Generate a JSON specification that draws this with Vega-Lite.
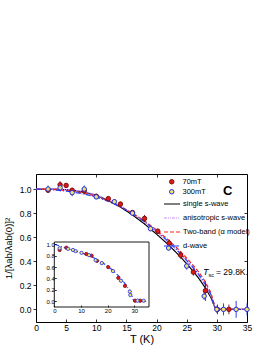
{
  "$schema": "https://vega.github.io/schema/vega-lite/v6.json",
  "width": 211,
  "height": 148,
  "autosize": {"type": "none"},
  "padding": {"left": 36, "top": 174, "right": 27, "bottom": 33},
  "background": "white",
  "config": {
    "view": {"stroke": null},
    "font": "Liberation Sans",
    "axis": {"grid": false, "labelOverlap": false, "labelFlush": false, "domainColor": "black", "tickColor": "black", "labelColor": "black", "titleColor": "black", "labelFont": "Liberation Sans", "titleFont": "Liberation Sans", "domainWidth": 1, "tickWidth": 0.8, "titleFontWeight": "normal"}
  },
  "datasets": {
    "pts": [
      {"field": "70mT", "T": 2, "v": 0.99, "lo": 0.97, "hi": 1.01},
      {"field": "70mT", "T": 4, "v": 1.035, "lo": 1.0, "hi": 1.065},
      {"field": "70mT", "T": 5, "v": 1.03, "lo": 1.01, "hi": 1.05},
      {"field": "70mT", "T": 6, "v": 0.99, "lo": 0.97, "hi": 1.01},
      {"field": "70mT", "T": 8, "v": 0.985, "lo": 0.955, "hi": 1.015},
      {"field": "70mT", "T": 10, "v": 0.94, "lo": 0.92, "hi": 0.96},
      {"field": "70mT", "T": 12, "v": 0.92, "lo": 0.9, "hi": 0.94},
      {"field": "70mT", "T": 14, "v": 0.875, "lo": 0.855, "hi": 0.895},
      {"field": "70mT", "T": 16, "v": 0.805, "lo": 0.785, "hi": 0.825},
      {"field": "70mT", "T": 18, "v": 0.755, "lo": 0.725, "hi": 0.785},
      {"field": "70mT", "T": 20.2, "v": 0.65, "lo": 0.63, "hi": 0.67},
      {"field": "70mT", "T": 22.1, "v": 0.55, "lo": 0.52, "hi": 0.58},
      {"field": "70mT", "T": 24, "v": 0.45, "lo": 0.42, "hi": 0.48},
      {"field": "70mT", "T": 26.1, "v": 0.31, "lo": 0.28, "hi": 0.34},
      {"field": "70mT", "T": 28.1, "v": 0.155, "lo": 0.07, "hi": 0.235},
      {"field": "70mT", "T": 30.1, "v": 0.0, "lo": -0.04, "hi": 0.04},
      {"field": "70mT", "T": 32, "v": 0.0, "lo": -0.04, "hi": 0.04},
      {"field": "300mT", "T": 2, "v": 1.0, "lo": 0.97, "hi": 1.03},
      {"field": "300mT", "T": 4, "v": 1.01, "lo": 0.98, "hi": 1.04},
      {"field": "300mT", "T": 6, "v": 0.97, "lo": 0.94, "hi": 1.0},
      {"field": "300mT", "T": 8, "v": 1.0, "lo": 0.97, "hi": 1.03},
      {"field": "300mT", "T": 10, "v": 0.935, "lo": 0.915, "hi": 0.955},
      {"field": "300mT", "T": 13, "v": 0.895, "lo": 0.875, "hi": 0.915},
      {"field": "300mT", "T": 16, "v": 0.8, "lo": 0.78, "hi": 0.82},
      {"field": "300mT", "T": 19, "v": 0.67, "lo": 0.65, "hi": 0.69},
      {"field": "300mT", "T": 22, "v": 0.51, "lo": 0.49, "hi": 0.53},
      {"field": "300mT", "T": 25, "v": 0.36, "lo": 0.33, "hi": 0.39},
      {"field": "300mT", "T": 27.9, "v": 0.11, "lo": 0.08, "hi": 0.14},
      {"field": "300mT", "T": 30, "v": 0.0, "lo": -0.03, "hi": 0.03},
      {"field": "300mT", "T": 31.1, "v": 0.0, "lo": -0.05, "hi": 0.05},
      {"field": "300mT", "T": 33.2, "v": 0.0, "lo": -0.07, "hi": 0.07},
      {"field": "300mT", "T": 35, "v": 0.0, "lo": -0.05, "hi": 0.05}
    ],
    "curves": [
      {"model": "single s-wave", "T": 0, "v": 1.0}, {"model": "single s-wave", "T": 2, "v": 1.0}, {"model": "single s-wave", "T": 4, "v": 0.998}, {"model": "single s-wave", "T": 6, "v": 0.99}, {"model": "single s-wave", "T": 8, "v": 0.975}, {"model": "single s-wave", "T": 10, "v": 0.948}, {"model": "single s-wave", "T": 12, "v": 0.905}, {"model": "single s-wave", "T": 14, "v": 0.85}, {"model": "single s-wave", "T": 16, "v": 0.785}, {"model": "single s-wave", "T": 18, "v": 0.71}, {"model": "single s-wave", "T": 20, "v": 0.625}, {"model": "single s-wave", "T": 22, "v": 0.535}, {"model": "single s-wave", "T": 24, "v": 0.435}, {"model": "single s-wave", "T": 26, "v": 0.322}, {"model": "single s-wave", "T": 27, "v": 0.258}, {"model": "single s-wave", "T": 28, "v": 0.185}, {"model": "single s-wave", "T": 29, "v": 0.1}, {"model": "single s-wave", "T": 29.8, "v": 0.0}, {"model": "single s-wave", "T": 35, "v": 0.0},
      {"model": "anisotropic s-wave", "T": 0, "v": 1.0}, {"model": "anisotropic s-wave", "T": 2, "v": 1.0}, {"model": "anisotropic s-wave", "T": 4, "v": 0.998}, {"model": "anisotropic s-wave", "T": 6, "v": 0.992}, {"model": "anisotropic s-wave", "T": 8, "v": 0.978}, {"model": "anisotropic s-wave", "T": 10, "v": 0.952}, {"model": "anisotropic s-wave", "T": 12, "v": 0.912}, {"model": "anisotropic s-wave", "T": 14, "v": 0.86}, {"model": "anisotropic s-wave", "T": 16, "v": 0.798}, {"model": "anisotropic s-wave", "T": 18, "v": 0.725}, {"model": "anisotropic s-wave", "T": 20, "v": 0.645}, {"model": "anisotropic s-wave", "T": 22, "v": 0.555}, {"model": "anisotropic s-wave", "T": 24, "v": 0.458}, {"model": "anisotropic s-wave", "T": 26, "v": 0.345}, {"model": "anisotropic s-wave", "T": 27, "v": 0.28}, {"model": "anisotropic s-wave", "T": 28, "v": 0.205}, {"model": "anisotropic s-wave", "T": 29, "v": 0.115}, {"model": "anisotropic s-wave", "T": 29.8, "v": 0.0}, {"model": "anisotropic s-wave", "T": 35, "v": 0.0},
      {"model": "Two-band (α model)", "T": 0, "v": 1.0}, {"model": "Two-band (α model)", "T": 2, "v": 0.998}, {"model": "Two-band (α model)", "T": 4, "v": 0.993}, {"model": "Two-band (α model)", "T": 6, "v": 0.982}, {"model": "Two-band (α model)", "T": 8, "v": 0.965}, {"model": "Two-band (α model)", "T": 10, "v": 0.938}, {"model": "Two-band (α model)", "T": 12, "v": 0.902}, {"model": "Two-band (α model)", "T": 14, "v": 0.855}, {"model": "Two-band (α model)", "T": 16, "v": 0.8}, {"model": "Two-band (α model)", "T": 18, "v": 0.735}, {"model": "Two-band (α model)", "T": 20, "v": 0.66}, {"model": "Two-band (α model)", "T": 22, "v": 0.575}, {"model": "Two-band (α model)", "T": 24, "v": 0.48}, {"model": "Two-band (α model)", "T": 26, "v": 0.37}, {"model": "Two-band (α model)", "T": 27, "v": 0.31}, {"model": "Two-band (α model)", "T": 28, "v": 0.235}, {"model": "Two-band (α model)", "T": 29, "v": 0.14}, {"model": "Two-band (α model)", "T": 29.8, "v": 0.0}, {"model": "Two-band (α model)", "T": 35, "v": 0.0},
      {"model": "d-wave", "T": 0, "v": 1.0}, {"model": "d-wave", "T": 2, "v": 0.996}, {"model": "d-wave", "T": 4, "v": 0.988}, {"model": "d-wave", "T": 6, "v": 0.976}, {"model": "d-wave", "T": 8, "v": 0.958}, {"model": "d-wave", "T": 10, "v": 0.933}, {"model": "d-wave", "T": 12, "v": 0.898}, {"model": "d-wave", "T": 14, "v": 0.852}, {"model": "d-wave", "T": 16, "v": 0.796}, {"model": "d-wave", "T": 18, "v": 0.728}, {"model": "d-wave", "T": 20, "v": 0.65}, {"model": "d-wave", "T": 22, "v": 0.562}, {"model": "d-wave", "T": 24, "v": 0.464}, {"model": "d-wave", "T": 26, "v": 0.352}, {"model": "d-wave", "T": 27, "v": 0.29}, {"model": "d-wave", "T": 28, "v": 0.215}, {"model": "d-wave", "T": 29, "v": 0.125}, {"model": "d-wave", "T": 29.8, "v": 0.0}, {"model": "d-wave", "T": 35, "v": 0.0}
    ],
    "insetPts": [
      {"field": "70mT", "T": 2, "v": 0.9}, {"field": "70mT", "T": 4.5, "v": 0.94}, {"field": "70mT", "T": 12, "v": 0.83}, {"field": "70mT", "T": 14, "v": 0.8}, {"field": "70mT", "T": 16, "v": 0.71}, {"field": "70mT", "T": 20.2, "v": 0.6}, {"field": "70mT", "T": 24, "v": 0.41}, {"field": "70mT", "T": 26.5, "v": 0.27}, {"field": "70mT", "T": 30.3, "v": 0.01}, {"field": "70mT", "T": 32.2, "v": 0.01},
      {"field": "300mT", "T": 2, "v": 0.93}, {"field": "300mT", "T": 5.2, "v": 0.92}, {"field": "300mT", "T": 7, "v": 0.9}, {"field": "300mT", "T": 8, "v": 0.88}, {"field": "300mT", "T": 10.2, "v": 0.85}, {"field": "300mT", "T": 13, "v": 0.81}, {"field": "300mT", "T": 15.5, "v": 0.72}, {"field": "300mT", "T": 17.8, "v": 0.67}, {"field": "300mT", "T": 22, "v": 0.53}, {"field": "300mT", "T": 25, "v": 0.36}, {"field": "300mT", "T": 28.3, "v": 0.17}, {"field": "300mT", "T": 28.5, "v": 0.11}, {"field": "300mT", "T": 31.2, "v": 0.01}, {"field": "300mT", "T": 33.5, "v": 0.01}
    ],
    "insetCurve": [
      {"T": 0, "v": 1.0}, {"T": 2, "v": 0.97}, {"T": 4, "v": 0.94}, {"T": 6, "v": 0.91}, {"T": 8, "v": 0.88}, {"T": 10, "v": 0.85}, {"T": 12, "v": 0.82}, {"T": 14, "v": 0.78}, {"T": 16, "v": 0.735}, {"T": 18, "v": 0.68}, {"T": 20, "v": 0.615}, {"T": 22, "v": 0.54}, {"T": 24, "v": 0.45}, {"T": 26, "v": 0.34}, {"T": 27, "v": 0.28}, {"T": 28, "v": 0.2}, {"T": 29, "v": 0.11}, {"T": 29.8, "v": 0.0}, {"T": 35, "v": 0.0}
    ]
  },
  "layer": [
    {
      "layer": [
        {
          "data": {"name": "curves"},
          "mark": {"type": "line", "strokeWidth": 1.2},
          "encoding": {
            "x": {"field": "T", "type": "quantitative", "scale": {"domain": [0, 35], "nice": false, "zero": false},
              "axis": {"orient": "bottom", "labelOverlap": false, "values": [0, 10, 20, 30], "format": "d", "tickSize": -3, "labelPadding": 4, "labelFontSize": 8.5, "title": "T (K)", "titleFontSize": 11, "titlePadding": 2}},
            "y": {"field": "v", "type": "quantitative", "scale": {"domain": [-0.105, 1.125], "nice": false, "zero": false},
              "axis": {"orient": "left", "labelOverlap": false, "values": [0, 0.4, 0.8], "format": ".1f", "tickSize": 3, "labelPadding": 2, "labelFontSize": 8.5, "title": "1/[λab/λab(0)]²", "titleFontSize": 9.5, "titlePadding": 6}},
            "color": {"field": "model", "type": "nominal",
              "scale": {"domain": ["single s-wave", "anisotropic s-wave", "Two-band (α model)", "d-wave"], "range": ["#000000", "#c58cff", "#ff2020", "#2040ff"]},
              "legend": {"orient": "none", "legendX": 127, "legendY": 21, "title": null, "symbolType": "stroke", "symbolSize": 256, "symbolStrokeWidth": 1.2, "labelFontSize": 7.5, "labelOffset": 2, "rowPadding": 1, "padding": 0, "labelFont": "Liberation Sans"}},
            "strokeDash": {"field": "model", "type": "nominal",
              "scale": {"domain": ["single s-wave", "anisotropic s-wave", "Two-band (α model)", "d-wave"], "range": [[1, 0], [3, 1, 1, 1, 1, 1], [4, 2], [5, 2, 1, 2]]},
              "legend": {"orient": "none", "legendX": 127, "legendY": 21, "title": null, "symbolType": "stroke", "symbolSize": 256, "symbolStrokeWidth": 1.2, "labelFontSize": 7.5, "labelOffset": 2, "rowPadding": 1, "padding": 0, "labelFont": "Liberation Sans"}}
          }
        },
        {
          "data": {"name": "pts"},
          "transform": [{"filter": "datum.field === '70mT'"}],
          "mark": {"type": "rule", "strokeWidth": 0.9, "stroke": "#5a1010"},
          "encoding": {
            "x": {"field": "T", "type": "quantitative"},
            "y": {"field": "lo", "type": "quantitative"},
            "y2": {"field": "hi"}
          }
        },
        {
          "data": {"name": "pts"},
          "transform": [{"filter": "datum.field === '300mT'"}],
          "mark": {"type": "rule", "strokeWidth": 0.9, "stroke": "#2030e0"},
          "encoding": {
            "x": {"field": "T", "type": "quantitative"},
            "y": {"field": "lo", "type": "quantitative"},
            "y2": {"field": "hi"}
          }
        },
        {
          "data": {"name": "pts"},
          "mark": {"type": "circle", "size": 20, "strokeWidth": 1, "opacity": 1},
          "encoding": {
            "x": {"field": "T", "type": "quantitative"},
            "y": {"field": "v", "type": "quantitative"},
            "fill": {"field": "field", "type": "nominal", "scale": {"domain": ["70mT", "300mT"], "range": ["#e01818", "#f0e070"]},
              "legend": {"orient": "none", "legendX": 132, "legendY": 4, "title": null, "symbolSize": 20, "symbolStrokeWidth": 1, "labelFontSize": 7.5, "labelOffset": 7, "rowPadding": 1, "padding": 0, "labelFont": "Liberation Sans"}},
            "stroke": {"field": "field", "type": "nominal", "scale": {"domain": ["70mT", "300mT"], "range": ["#7a1010", "#2030e0"]},
              "legend": {"orient": "none", "legendX": 132, "legendY": 4, "title": null, "symbolSize": 20, "symbolStrokeWidth": 1, "labelFontSize": 7.5, "labelOffset": 7, "rowPadding": 1, "padding": 0, "labelFont": "Liberation Sans"}}
          }
        }
      ]
    },
    {
      "data": {"values": [{}]},
      "mark": {"type": "text", "text": "C", "fontSize": 13, "fontWeight": "bold", "align": "center", "baseline": "middle", "font": "Liberation Sans"},
      "encoding": {
        "x": {"datum": 31.8, "type": "quantitative", "scale": {"domain": [0, 35], "nice": false, "zero": false},
          "axis": {"orient": "bottom", "labelOverlap": false, "values": [5, 15, 25, 35], "format": "d", "domain": false, "tickSize": -3, "labelPadding": 4, "labelFontSize": 8.5, "title": null}},
        "y": {"datum": 0.98, "type": "quantitative", "scale": {"domain": [-0.105, 1.125], "nice": false, "zero": false},
          "axis": {"orient": "left", "labelOverlap": false, "values": [0.2, 0.6, 1.0], "format": ".1f", "domain": false, "tickSize": 3, "labelPadding": 2, "labelFontSize": 8.5, "title": null}}
      }
    },
    {
      "data": {"values": [{}]},
      "layer": [
        {
          "mark": {"type": "text", "text": "T", "fontSize": 9, "fontStyle": "italic", "align": "left", "baseline": "alphabetic", "font": "Liberation Sans"},
          "encoding": {
            "x": {"datum": 27.7, "type": "quantitative", "scale": {"domain": [0, 35], "nice": false, "zero": false},
              "axis": {"orient": "top", "values": [0, 2.5, 5, 7.5, 10, 12.5, 15, 17.5, 20, 22.5, 25, 27.5, 30, 32.5, 35], "labels": false, "tickSize": -3, "title": null}},
            "y": {"datum": 0.286, "type": "quantitative", "scale": {"domain": [-0.105, 1.125], "nice": false, "zero": false},
              "axis": {"orient": "right", "values": [0, 0.1, 0.2, 0.3, 0.4, 0.5, 0.6, 0.7, 0.8, 0.9, 1.0, 1.1], "labels": false, "tickSize": -3, "title": null}}
          }
        },
        {
          "mark": {"type": "text", "text": "sc", "fontSize": 5.5, "align": "left", "baseline": "alphabetic", "dx": 5.5, "dy": 2, "font": "Liberation Sans"},
          "encoding": {"x": {"datum": 27.7, "type": "quantitative"}, "y": {"datum": 0.286, "type": "quantitative"}}
        },
        {
          "mark": {"type": "text", "text": "= 29.8K.", "fontSize": 8.5, "align": "left", "baseline": "alphabetic", "dx": 13, "font": "Liberation Sans"},
          "encoding": {"x": {"datum": 27.7, "type": "quantitative"}, "y": {"datum": 0.286, "type": "quantitative"}}
        }
      ]
    },
    {
      "data": {"values": [{}]},
      "mark": {"type": "rect", "fill": "white", "stroke": "black", "strokeWidth": 0.9},
      "encoding": {
        "x": {"datum": 0, "type": "quantitative", "scale": {"domain": [0, 35.5], "range": [18.3, 113], "nice": false, "zero": false},
          "axis": {"orient": "bottom", "labelOverlap": false, "offset": -15, "values": [0, 10, 20, 30], "format": "d", "tickSize": -2, "labelPadding": 2, "labelFontSize": 6, "title": null, "zindex": 1, "domain": false}},
        "x2": {"datum": 35.5},
        "y": {"datum": -0.1, "type": "quantitative", "scale": {"domain": [-0.1, 1.04], "range": [133, 68], "nice": false, "zero": false},
          "axis": {"orient": "left", "labelOverlap": false, "offset": -18.3, "values": [0, 0.4, 0.8], "format": ".1f", "tickSize": -2, "labelPadding": 2, "labelFontSize": 6, "title": null, "zindex": 1, "domain": false}},
        "y2": {"datum": 1.04}
      }
    },
    {
      "layer": [
        {
          "data": {"name": "insetCurve"},
          "mark": {"type": "line", "stroke": "#2040ff", "strokeWidth": 1.1, "strokeDash": [5, 2, 1, 2]},
          "encoding": {
            "x": {"field": "T", "type": "quantitative", "scale": {"domain": [0, 35.5], "range": [18.3, 113], "nice": false, "zero": false}, "axis": null},
            "y": {"field": "v", "type": "quantitative", "scale": {"domain": [-0.1, 1.04], "range": [133, 68], "nice": false, "zero": false},
              "axis": {"orient": "left", "labelOverlap": false, "offset": -18.3, "values": [0.2, 0.6, 1.0], "format": ".1f", "tickSize": -2, "labelPadding": 2, "labelFontSize": 6, "title": null, "zindex": 1, "domain": false}}
          }
        },
        {
          "data": {"name": "insetPts"},
          "transform": [{"filter": "datum.field === '70mT'"}],
          "mark": {"type": "circle", "size": 11, "strokeWidth": 0.8, "opacity": 1, "fill": "#e01818", "stroke": "#7a1010"},
          "encoding": {"x": {"field": "T", "type": "quantitative"}, "y": {"field": "v", "type": "quantitative"}}
        },
        {
          "data": {"name": "insetPts"},
          "transform": [{"filter": "datum.field === '300mT'"}],
          "mark": {"type": "circle", "size": 11, "strokeWidth": 0.8, "opacity": 1, "fill": "#f0e070", "stroke": "#2030e0"},
          "encoding": {"x": {"field": "T", "type": "quantitative"}, "y": {"field": "v", "type": "quantitative"}}
        }
      ]
    }
  ],
  "resolve": {"scale": {"x": "independent", "y": "independent"}}
}
